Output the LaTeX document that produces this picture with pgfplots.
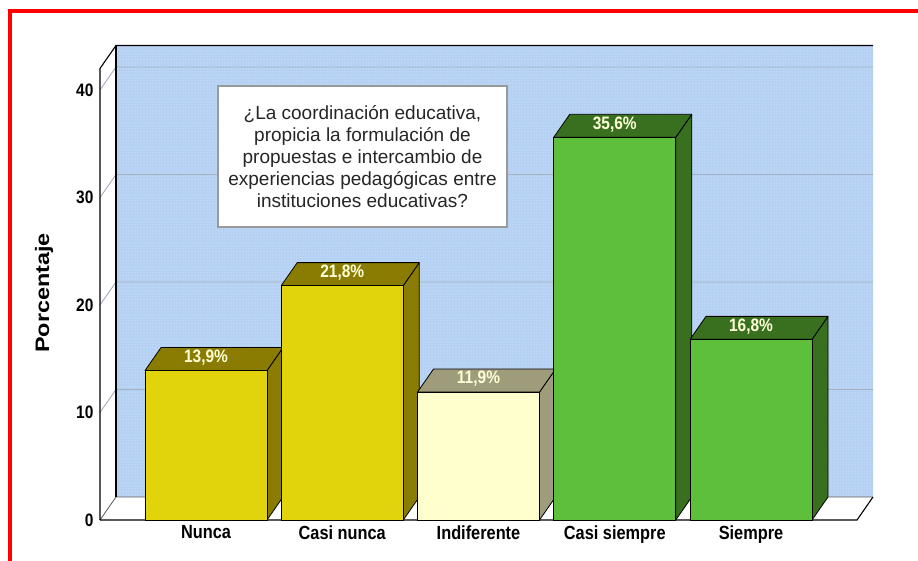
\documentclass[border=0pt]{standalone}
\usepackage{pgfplots}
\pgfplotsset{compat=1.18}
\usepackage{fontspec}
\setmainfont{Liberation Sans}
\newfontfamily\narrowfont[FakeStretch=0.86]{Liberation Sans}
\newfontfamily\tallfont[FakeStretch=1.2]{Liberation Sans}
\usetikzlibrary{patterns}
\definecolor{wallblue}{RGB}{180,209,243}
\definecolor{gridcol}{RGB}{165,175,190}
\definecolor{ylwF}{RGB}{226,212,12}
\definecolor{ylwD}{RGB}{138,124,2}
\definecolor{paleF}{RGB}{255,255,205}
\definecolor{paleD}{RGB}{158,156,122}
\definecolor{grnF}{RGB}{94,192,58}
\definecolor{grnD}{RGB}{56,112,32}
\definecolor{lblcol}{RGB}{255,255,215}
\begin{document}
\begin{tikzpicture}
\useasboundingbox (-206pt,-41pt) rectangle (712pt,520pt);
\begin{axis}[
  at={(0pt,0pt)}, anchor=origin,
  x=136.25pt, y=10.75pt,
  xmin=-0.778, xmax=4.8954, ymin=0, ymax=44.14,
  clip=false,
  axis line style={draw=none},
  major tick length=0pt,
  ytick={0,10,20,30,40},
  xtick={0,1,2,3,4},
  xticklabels={Nunca, Casi nunca, Indiferente, Casi siempre, Siempre},
  xticklabel style={font=\narrowfont\bfseries\fontsize{19}{22}\selectfont, yshift=-2pt},
  yticklabel style={font=\narrowfont\bfseries\fontsize{18}{21}\selectfont, xshift=-3pt},
  /pgf/number format/assume math mode=true,
  ylabel={\tallfont\fontsize{19.5}{22}\selectfont\bfseries Porcentaje},
  ylabel style={at={(axis cs:-1.189,21.12)}, anchor=center},
]
% back wall
\addplot[fill=wallblue, draw=none, forget plot] coordinates {(-0.6606,2.14) (4.8954,2.14) (4.8954,44.14) (-0.6606,44.14) (-0.6606,2.14)};
\addplot[pattern=dots, pattern color=white!65!wallblue, draw=none, forget plot] coordinates {(-0.6606,2.14) (4.8954,2.14) (4.8954,44.14) (-0.6606,44.14) (-0.6606,2.14)};
% left wall and floor
\addplot[fill=white, draw=none, forget plot] coordinates {(-0.778,0) (-0.6606,2.14) (-0.6606,44.14) (-0.778,42) (-0.778,0)};
\addplot[fill=white, draw=none, forget plot] coordinates {(-0.778,0) (4.778,0) (4.8954,2.14) (-0.6606,2.14) (-0.778,0)};
% grid lines
\addplot[gridcol, line width=0.9pt, forget plot] coordinates {(-0.778,10) (-0.6606,12.14) (4.8954,12.14)};
\addplot[gridcol, line width=0.9pt, forget plot] coordinates {(-0.778,20) (-0.6606,22.14) (4.8954,22.14)};
\addplot[gridcol, line width=0.9pt, forget plot] coordinates {(-0.778,30) (-0.6606,32.14) (4.8954,32.14)};
\addplot[gridcol, line width=0.9pt, forget plot] coordinates {(-0.778,40) (-0.6606,42.14) (4.8954,42.14)};
% wall outlines
\addplot[gray!70!black, line width=0.8pt, forget plot] coordinates {(-0.778,0) (-0.6606,2.14) (4.8954,2.14)};
\addplot[black, line width=1.1pt, forget plot] coordinates {(-0.778,0) (-0.778,42) (-0.6606,44.14) (4.8954,44.14)};
\addplot[black, line width=1.1pt, forget plot] coordinates {(-0.6606,2.14) (-0.6606,44.14)};
\addplot[black, line width=1.1pt, forget plot] coordinates {(-0.778,0) (4.778,0) (4.8954,2.14)};
% question box
\node[draw=gray!80, line width=1.5pt, fill=white, minimum width=289pt, minimum height=141pt, align=center, inner sep=0pt,
  font=\fontsize{19}{21.8}\selectfont, text=black!85] at (axis cs:1.1486,33.81)
  {¿La coordinación educativa,\\ propicia la formulación de\\ propuestas e intercambio de\\ experiencias pedagógicas entre\\ instituciones educativas?};
% side faces
\addplot[fill=ylwD, draw=black, line width=0.8pt, line join=round, forget plot] coordinates {(0.4477,0) (0.4477,13.9) (0.5651,16.04) (0.5651,2.14) (0.4477,0)};
\addplot[fill=ylwD, draw=black, line width=0.8pt, line join=round, forget plot] coordinates {(1.4477,0) (1.4477,21.8) (1.5651,23.94) (1.5651,2.14) (1.4477,0)};
\addplot[fill=paleD, draw=black, line width=0.8pt, line join=round, forget plot] coordinates {(2.4477,0) (2.4477,11.9) (2.5651,14.04) (2.5651,2.14) (2.4477,0)};
\addplot[fill=grnD, draw=black, line width=0.8pt, line join=round, forget plot] coordinates {(3.4477,0) (3.4477,35.6) (3.5651,37.74) (3.5651,2.14) (3.4477,0)};
\addplot[fill=grnD, draw=black, line width=0.8pt, line join=round, forget plot] coordinates {(4.4477,0) (4.4477,16.8) (4.5651,18.94) (4.5651,2.14) (4.4477,0)};
% top faces
\addplot[fill=ylwD, draw=black, line width=0.8pt, line join=round, forget plot] coordinates {(-0.4477,13.9) (0.4477,13.9) (0.5651,16.04) (-0.3303,16.04) (-0.4477,13.9)};
\addplot[fill=ylwD, draw=black, line width=0.8pt, line join=round, forget plot] coordinates {(0.5523,21.8) (1.4477,21.8) (1.5651,23.94) (0.6697,23.94) (0.5523,21.8)};
\addplot[fill=paleD, draw=black, line width=0.8pt, line join=round, forget plot] coordinates {(1.5523,11.9) (2.4477,11.9) (2.5651,14.04) (1.6697,14.04) (1.5523,11.9)};
\addplot[fill=grnD, draw=black, line width=0.8pt, line join=round, forget plot] coordinates {(2.5523,35.6) (3.4477,35.6) (3.5651,37.74) (2.6697,37.74) (2.5523,35.6)};
\addplot[fill=grnD, draw=black, line width=0.8pt, line join=round, forget plot] coordinates {(3.5523,16.8) (4.4477,16.8) (4.5651,18.94) (3.6697,18.94) (3.5523,16.8)};
% front faces
\pgfplotsset{frontbar/.style={ybar, bar width=122pt, bar shift=0pt, draw=black, line width=0.8pt,
  nodes near coords={\pgfmathprintnumber[fixed,fixed zerofill,precision=1,use comma]{\pgfplotspointmeta}\%},
  nodes near coords align={center},
  every node near coord/.append style={anchor=center, xshift=0pt, yshift=13pt, text=lblcol, font=\narrowfont\bfseries\fontsize{18}{20}\selectfont}}}
\addplot[frontbar, fill=ylwF] coordinates {(0,13.9) (1,21.8)};
\addplot[frontbar, fill=paleF] coordinates {(2,11.9)};
\addplot[frontbar, fill=grnF] coordinates {(3,35.6) (4,16.8)};
\end{axis}
\draw[red, line width=4pt] (-196pt,-60pt) -- (-196pt,508.5pt) -- (730pt,508.5pt);
\end{tikzpicture}
\end{document}
